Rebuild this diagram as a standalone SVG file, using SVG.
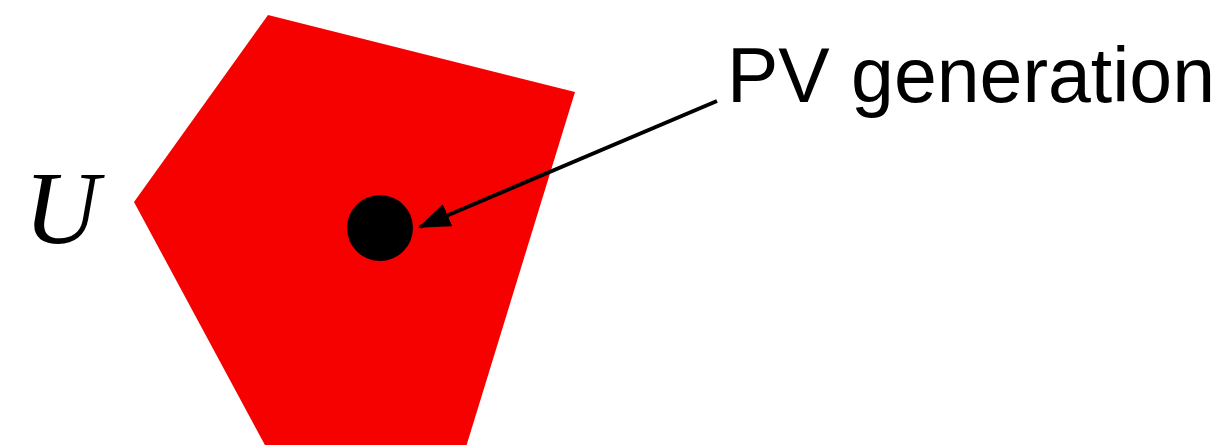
<svg xmlns="http://www.w3.org/2000/svg" width="1232" height="445" viewBox="0 0 1232 445">
<style>
.lbl{font-family:"Liberation Sans",Arial,sans-serif;fill:#000}
.math{font-family:"Liberation Serif","Times New Roman",serif;font-style:italic;fill:#000}
</style>
<defs>
<marker id="ah" markerWidth="8" markerHeight="6" refX="7.5" refY="3" orient="auto" markerUnits="strokeWidth">
<path d="M0,0 L8,3 L0,6 Z" fill="#000"/>
</marker>
</defs>
<rect width="1232" height="445" fill="#fff"/>
<g id="region">
<polygon points="268,15 575,92 466,447 266,447 134,202" fill="#f70000"/>
<text class="math" x="24" y="243" font-size="104">U</text>
</g>
<g id="pv">
<circle cx="380" cy="228" r="33" fill="#000"/>
</g>
<g id="label">
<text class="lbl" x="727" y="102" font-size="77">PV generation</text>
</g>
<g id="connectors">
<line x1="717" y1="101" x2="420" y2="227" stroke="#000" stroke-width="4" marker-end="url(#ah)"/>
</g>
</svg>
